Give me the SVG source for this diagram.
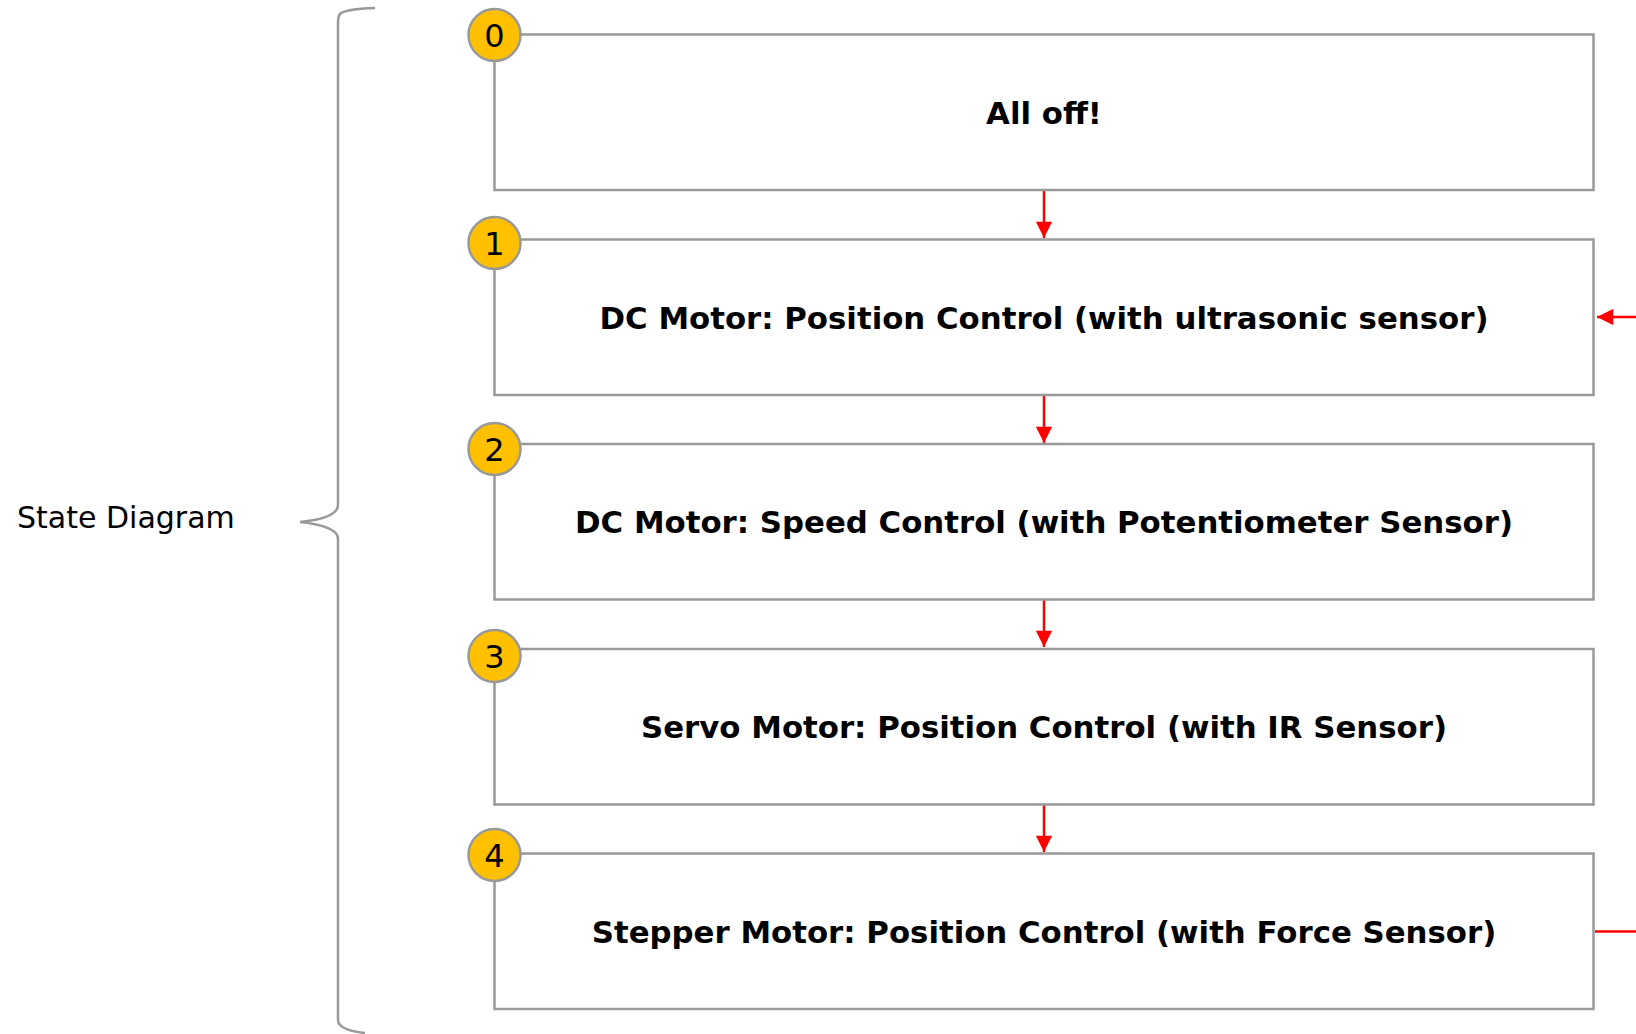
<svg xmlns="http://www.w3.org/2000/svg" width="1636" height="1034" viewBox="0 0 1636 1034">
<style>
.box{fill:#fff;stroke:#999;stroke-width:2.5}
.num{fill:#FFC000;stroke:#999;stroke-width:2.5}
.lbl{font-family:"DejaVu Sans",sans-serif;font-weight:bold;font-size:30.8px;fill:#000;text-anchor:middle;dominant-baseline:central}
.n{font-family:"DejaVu Sans",sans-serif;font-size:32px;fill:#000;text-anchor:middle;dominant-baseline:central}
.ed{stroke:#f00;stroke-width:2.5;fill:none}
</style>
<defs>
<marker id="ah" viewBox="0 0 10 10" refX="10" refY="5" markerWidth="7" markerHeight="6.5" markerUnits="strokeWidth" orient="auto"><path d="M0,0L10,5L0,10z" fill="#f00"/></marker>
</defs>
<g id="brace">
<path d="M375,8 Q345,9 340,14 Q338,16 338,24 L338,505 Q338,518 300,522 Q338,526 338,539 L338,1020 Q338,1030 365,1033" fill="none" stroke="#999" stroke-width="2.5"/>
<text x="17" y="517" font-family="DejaVu Sans,sans-serif" font-size="30" dominant-baseline="central">State Diagram</text>
</g>
<g id="connectors">
<line class="ed" x1="1044" y1="190" x2="1044" y2="238" marker-end="url(#ah)"/>
<line class="ed" x1="1044" y1="395" x2="1044" y2="443" marker-end="url(#ah)"/>
<line class="ed" x1="1044" y1="599" x2="1044" y2="647" marker-end="url(#ah)"/>
<line class="ed" x1="1044" y1="804" x2="1044" y2="852" marker-end="url(#ah)"/>
<line class="ed" x1="1636" y1="317" x2="1597" y2="317" marker-end="url(#ah)"/>
<line class="ed" x1="1595" y1="931.5" x2="1636" y2="931.5"/>
</g>
<g id="s0"><rect class="box" x="494.5" y="34.5" width="1099" height="155.5"/><circle class="num" cx="494.5" cy="35" r="26"/><text class="n" x="494.5" y="36">0</text><text class="lbl" x="1044" y="113">All off!</text></g>
<g id="s1"><rect class="box" x="494.5" y="239.5" width="1099" height="155.5"/><circle class="num" cx="494.5" cy="243" r="26"/><text class="n" x="494.5" y="244">1</text><text class="lbl" x="1044" y="318">DC Motor: Position Control (with ultrasonic sensor)</text></g>
<g id="s2"><rect class="box" x="494.5" y="444" width="1099" height="155.5"/><circle class="num" cx="494.5" cy="449" r="26"/><text class="n" x="494.5" y="450">2</text><text class="lbl" x="1044" y="522">DC Motor: Speed Control (with Potentiometer Sensor)</text></g>
<g id="s3"><rect class="box" x="494.5" y="649" width="1099" height="155.5"/><circle class="num" cx="494.5" cy="656" r="26"/><text class="n" x="494.5" y="657">3</text><text class="lbl" x="1044" y="727">Servo Motor: Position Control (with IR Sensor)</text></g>
<g id="s4"><rect class="box" x="494.5" y="853.5" width="1099" height="155.5"/><circle class="num" cx="494.5" cy="855" r="26"/><text class="n" x="494.5" y="856">4</text><text class="lbl" x="1044" y="932">Stepper Motor: Position Control (with Force Sensor)</text></g>
</svg>
